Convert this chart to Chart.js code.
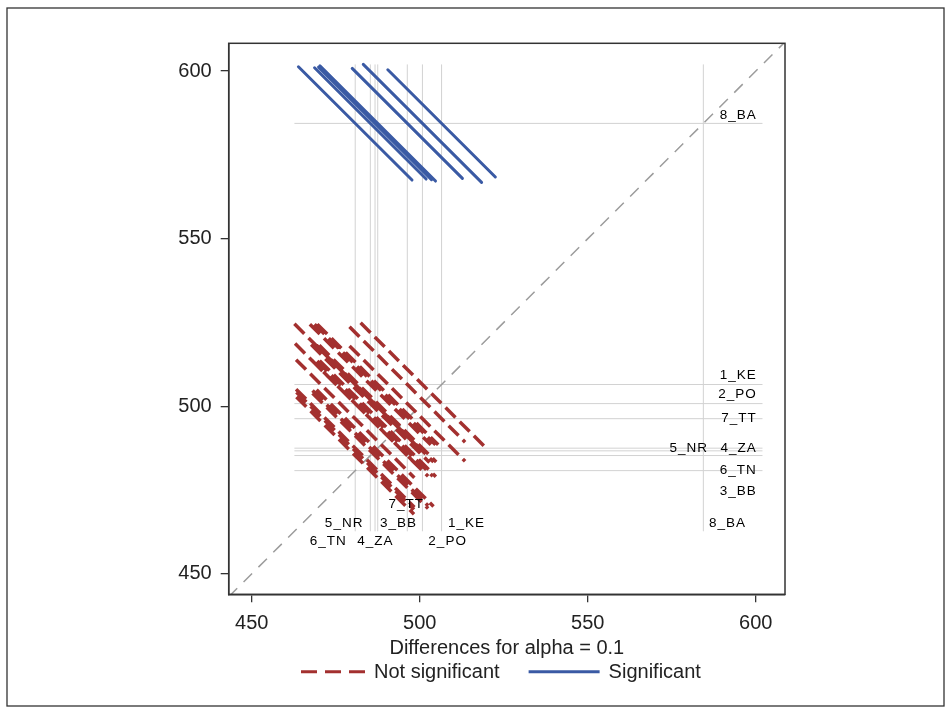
<!DOCTYPE html>
<html><head><meta charset="utf-8">
<style>html,body{margin:0;padding:0;background:#fff}#wrap{width:952px;height:714px;position:relative}</style>
<script src="https://cdn.jsdelivr.net/npm/chart.js@4"></script>
</head><body><div id="wrap"><canvas id="c" width="952" height="714"></canvas></div>
<script>
// ---------------- data ----------------
const groups = ['1_KE','2_PO','3_BB','4_ZA','5_NR','6_TN','7_TT','8_BA'];
const groupMeans = [506.5, 500.8, 485.3, 486.7, 487.5, 480.8, 496.3, 584.4];
// pairwise comparisons (indices into groups)
const pairFirst  = [0,0,0,0,0,0,0, 1,1,1,1,1,1, 2,2,2,2,2, 3,3,3,3, 4,4,4, 5,5, 6];
const pairSecond = [1,2,3,4,5,6,7, 2,3,4,5,6,7, 3,4,5,6,7, 4,5,6,7, 5,6,7, 6,7, 7];
// half-width of the confidence interval of each difference (alpha = 0.1)
const ciHalfWidth = [36.8,36.0,36.0,36.0,36.2,34.4,32.0,
                     35.2,34.8,34.8,35.8,34.4,35.2,
                     34.4,34.4,35.0,34.4,33.2,
                     34.8,35.0,34.4,33.6,
                     35.2,34.6,34.4,
                     35.2,33.8,
                     32.8];
const xTickValues = [450, 500, 550, 600];
const yTickValues = [450, 500, 550, 600];
const axisTitle = 'Differences for alpha = 0.1';
const seriesNames = ['Not significant', 'Significant'];

// ---------------- derived datasets ----------------
const notSigPts = [], sigPts = [];
const allCoords = [];
for (let k = 0; k < pairFirst.length; k++) {
  const a = groupMeans[pairFirst[k]], b = groupMeans[pairSecond[k]];
  const cx = Math.min(a, b), cy = Math.max(a, b);
  const h = ciHalfWidth[k] / 2;
  const p1 = {x: cx - h, y: cy + h}, p2 = {x: cx + h, y: cy - h};
  allCoords.push(p1.x, p1.y, p2.x, p2.y);
  const target = Math.abs(a - b) > ciHalfWidth[k] ? sigPts : notSigPts;
  target.push(p1, p2, {x: p2.x, y: null});
}
const lo = Math.min(...allCoords), hi = Math.max(...allCoords);
const refPts = [];
groupMeans.forEach(m => {
  refPts.push({x: lo, y: m}, {x: hi, y: m}, {x: hi, y: null});
  refPts.push({x: m, y: lo}, {x: m, y: hi}, {x: m, y: null});
});

const X_MIN = 443.15, X_MAX = 608.7, Y_MIN = 443.9, Y_MAX = 608.3;
const diagPts = [{x: X_MIN, y: X_MIN}, {x: X_MAX, y: X_MAX}];

// label placement (data units) for the reference-line labels
const bottomLabelPlace = {
  '7_TT': [496.0, 470.9], '5_NR': [477.5, 465.2], '3_BB': [493.65, 465.2], '1_KE': [513.9, 465.2],
  '6_TN': [472.8, 459.6], '4_ZA': [486.8, 459.6], '2_PO': [508.3, 459.6], '8_BA': [591.6, 465.2]
};
const rightLabelPlace = {
  '8_BA': [600.3, 586.9], '1_KE': [600.3, 509.1], '2_PO': [600.3, 503.6], '7_TT': [600.3, 496.4],
  '5_NR': [585.8, 487.5], '4_ZA': [600.3, 487.5], '6_TN': [600.3, 481.0], '3_BB': [600.3, 474.5]
};

const FONT = '"Liberation Sans", Arial, sans-serif';
const RED = '#A3302F', BLUE = '#3A5AA4';

const decor = {
  id: 'decor',
  beforeDraw(chart) {
    const ctx = chart.ctx;
    ctx.save();
    ctx.fillStyle = '#fff';
    ctx.fillRect(0, 0, chart.width, chart.height);
    ctx.strokeStyle = '#333';
    ctx.lineWidth = 1.3;
    ctx.strokeRect(7, 8, 937, 698);
    ctx.restore();
  },
  afterDatasetsDraw(chart) {
    const ctx = chart.ctx, xs = chart.scales.x, ys = chart.scales.y, ca = chart.chartArea;
    ctx.save();
    ctx.fillStyle = '#000';
    ctx.font = '13.5px ' + FONT;
    if ('letterSpacing' in ctx) ctx.letterSpacing = '1px';
    ctx.textBaseline = 'middle';
    ctx.textAlign = 'center';
    groups.forEach(g => {
      const p = bottomLabelPlace[g];
      if (p) ctx.fillText(g, xs.getPixelForValue(p[0]), ys.getPixelForValue(p[1]));
    });
    ctx.textAlign = 'right';
    groups.forEach(g => {
      const p = rightLabelPlace[g];
      if (p) ctx.fillText(g, xs.getPixelForValue(p[0]), ys.getPixelForValue(p[1]));
    });
    ctx.restore();
    // frame
    ctx.save();
    ctx.strokeStyle = '#333';
    ctx.lineWidth = 1.5;
    ctx.strokeRect(ca.left, ca.top, ca.right - ca.left, ca.bottom - ca.top);
    ctx.restore();
  },
  afterDraw(chart) {
    const ctx = chart.ctx;
    const ds = chart.data.datasets;
    const items = [ds[0], ds[1]];
    const sampleW = [64, 71];
    const sampleDash = [[16, 8], []];
    let x = 301; const y = 671.7;
    ctx.save();
    ctx.font = '20px ' + FONT;
    ctx.textBaseline = 'middle';
    ctx.textAlign = 'left';
    items.forEach((d, i) => {
      ctx.strokeStyle = d.borderColor;
      ctx.lineWidth = 3;
      ctx.lineCap = 'butt';
      ctx.setLineDash(sampleDash[i]);
      ctx.beginPath(); ctx.moveTo(x, y); ctx.lineTo(x + sampleW[i], y); ctx.stroke();
      ctx.setLineDash([]);
      x += sampleW[i] + 9;
      ctx.fillStyle = '#222';
      ctx.fillText(d.label, x, y + 1);
      x += ctx.measureText(d.label).width + 29;
    });
    ctx.restore();
  }
};

new Chart(document.getElementById('c'), {
  type: 'scatter',
  data: {
    datasets: [
      {label: seriesNames[0], data: notSigPts, showLine: true, spanGaps: false, borderColor: RED,
       backgroundColor: RED, borderWidth: 3.5, borderDash: [14, 6], pointRadius: 0, order: 2},
      {label: seriesNames[1], data: sigPts, showLine: true, spanGaps: false, borderColor: BLUE,
       backgroundColor: BLUE, borderWidth: 3, borderCapStyle: 'round', pointRadius: 0, order: 1},
      {label: 'ref', data: refPts, showLine: true, spanGaps: false, borderColor: '#d2d2d2',
       borderWidth: 1, pointRadius: 0, order: 4},
      {label: 'diag', data: diagPts, showLine: true, borderColor: '#9c9c9c', borderWidth: 1.5,
       borderDash: [12, 9], pointRadius: 0, order: 3}
    ]
  },
  options: {
    responsive: false,
    animation: false,
    events: [],
    layout: {padding: {top: 43.3, right: 167, bottom: 0, left: 0}},
    plugins: {legend: {display: false}, tooltip: {enabled: false}, title: {display: false}},
    scales: {
      x: {
        type: 'linear', position: 'bottom', min: X_MIN, max: X_MAX,
        afterBuildTicks: s => { s.ticks = xTickValues.map(v => ({value: v})); },
        afterFit: s => { s.height = 714 - 594.3; },
        ticks: {font: {size: 20, family: FONT}, color: '#222', padding: 9, maxRotation: 0},
        grid: {drawOnChartArea: false, drawTicks: true, tickLength: 8, color: '#333', lineWidth: 1.3},
        border: {display: true, color: '#333', width: 1.5},
        title: {display: true, text: axisTitle, font: {size: 20, family: FONT}, color: '#222',
                padding: {top: 0, bottom: 54}}
      },
      y: {
        type: 'linear', position: 'left', min: Y_MIN, max: Y_MAX,
        afterBuildTicks: s => { s.ticks = yTickValues.map(v => ({value: v})); },
        afterFit: s => { s.width = 228.7; },
        ticks: {font: {size: 20, family: FONT}, color: '#222', padding: 9},
        grid: {drawOnChartArea: false, drawTicks: true, tickLength: 8, color: '#333', lineWidth: 1.3},
        border: {display: true, color: '#333', width: 1.5}
      }
    }
  },
  plugins: [decor]
});
</script></body></html>
